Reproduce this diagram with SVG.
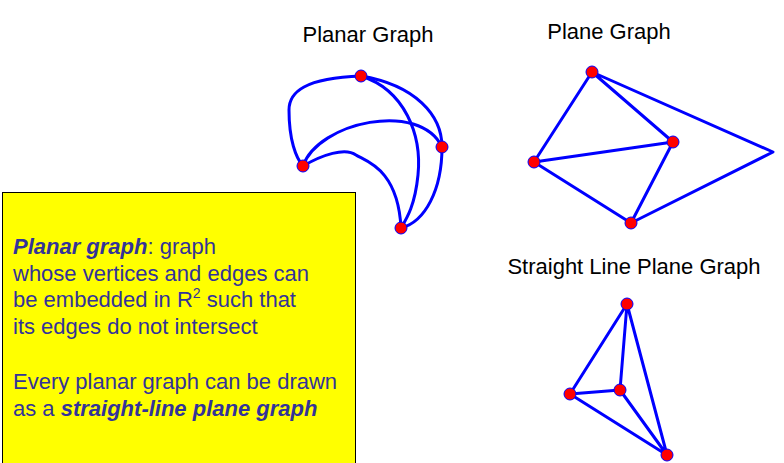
<svg xmlns="http://www.w3.org/2000/svg" width="784" height="463" viewBox="0 0 784 463">
<style>
.e{fill:none;stroke:#0000ff;stroke-width:3;stroke-linecap:round;stroke-linejoin:round}
.n{fill:#ff0000;stroke:#0000ff;stroke-width:1}
.t{font-family:"Liberation Sans",Arial,sans-serif;font-size:22px;fill:#000}
.b{font-family:"Liberation Sans",Arial,sans-serif;font-size:22px;fill:#333399}
.bi{font-weight:bold;font-style:italic}
</style>
<rect width="784" height="463" fill="#fff"/>
<text class="t" x="368" y="42" text-anchor="middle">Planar Graph</text>
<text class="t" x="609" y="39" text-anchor="middle">Plane Graph</text>
<text class="t" x="634" y="274" text-anchor="middle">Straight Line Plane Graph</text>
<g id="connectors">
<path class="e" d="M361,76 C305,78 289,92 289,110 C289,140 296,158 303,166"/>
<path class="e" d="M303,166 C318,122 420,100 442,147"/>
<path class="e" d="M303,166 C322,155 345,147 356,155 C365,161 398,168 401,228"/>
<path class="e" d="M361,76 C405,90 422,135 418,175 C415,205 407,218 401,228"/>
<path class="e" d="M361,76 C415,85 442,115 442,147"/>
<path class="e" d="M442,147 C442,190 425,222 401,228"/>
<path class="e" d="M592,72 L534,162 M592,72 L673,142 M592,72 L773,152 L631,223 M534,162 L673,142 M534,162 L631,223 M673,142 L631,223"/>
<path class="e" d="M627,304 L570,394 M627,304 L620,390 M627,304 L667,455 M570,394 L620,390 M570,394 L667,455 M620,390 L667,455"/>
</g>
<g id="planar-nodes">
<circle id="p1" class="n" cx="361" cy="76" r="6"/>
<circle id="p2" class="n" cx="442" cy="147" r="6"/>
<circle id="p3" class="n" cx="303" cy="166" r="6"/>
<circle id="p4" class="n" cx="401" cy="228" r="6"/>
</g>
<g id="plane-nodes">
<circle id="q1" class="n" cx="592" cy="72" r="6"/>
<circle id="q2" class="n" cx="673" cy="142" r="6"/>
<circle id="q3" class="n" cx="534" cy="162" r="6"/>
<circle id="q4" class="n" cx="631" cy="223" r="6"/>
</g>
<g id="straight-nodes">
<circle id="s1" class="n" cx="627" cy="304" r="6"/>
<circle id="s2" class="n" cx="620" cy="390" r="6"/>
<circle id="s3" class="n" cx="570" cy="394" r="6"/>
<circle id="s4" class="n" cx="667" cy="455" r="6"/>
</g>
<g id="definition-box">
<rect x="2.5" y="192.5" width="353" height="275" fill="#ffff00" stroke="#000" stroke-width="1"/>
<text class="b" x="13" y="254"><tspan class="bi">Planar graph</tspan>: graph</text>
<text class="b" x="13" y="281">whose vertices and edges can</text>
<text class="b" x="13" y="307">be embedded in R<tspan font-size="14" dy="-9">2</tspan><tspan dy="9"> such that</tspan></text>
<text class="b" x="13" y="334">its edges do not intersect</text>
<text class="b" x="13" y="389">Every planar graph can be drawn</text>
<text class="b" x="13" y="416">as a <tspan class="bi">straight-line plane graph</tspan></text>
</g>
</svg>
